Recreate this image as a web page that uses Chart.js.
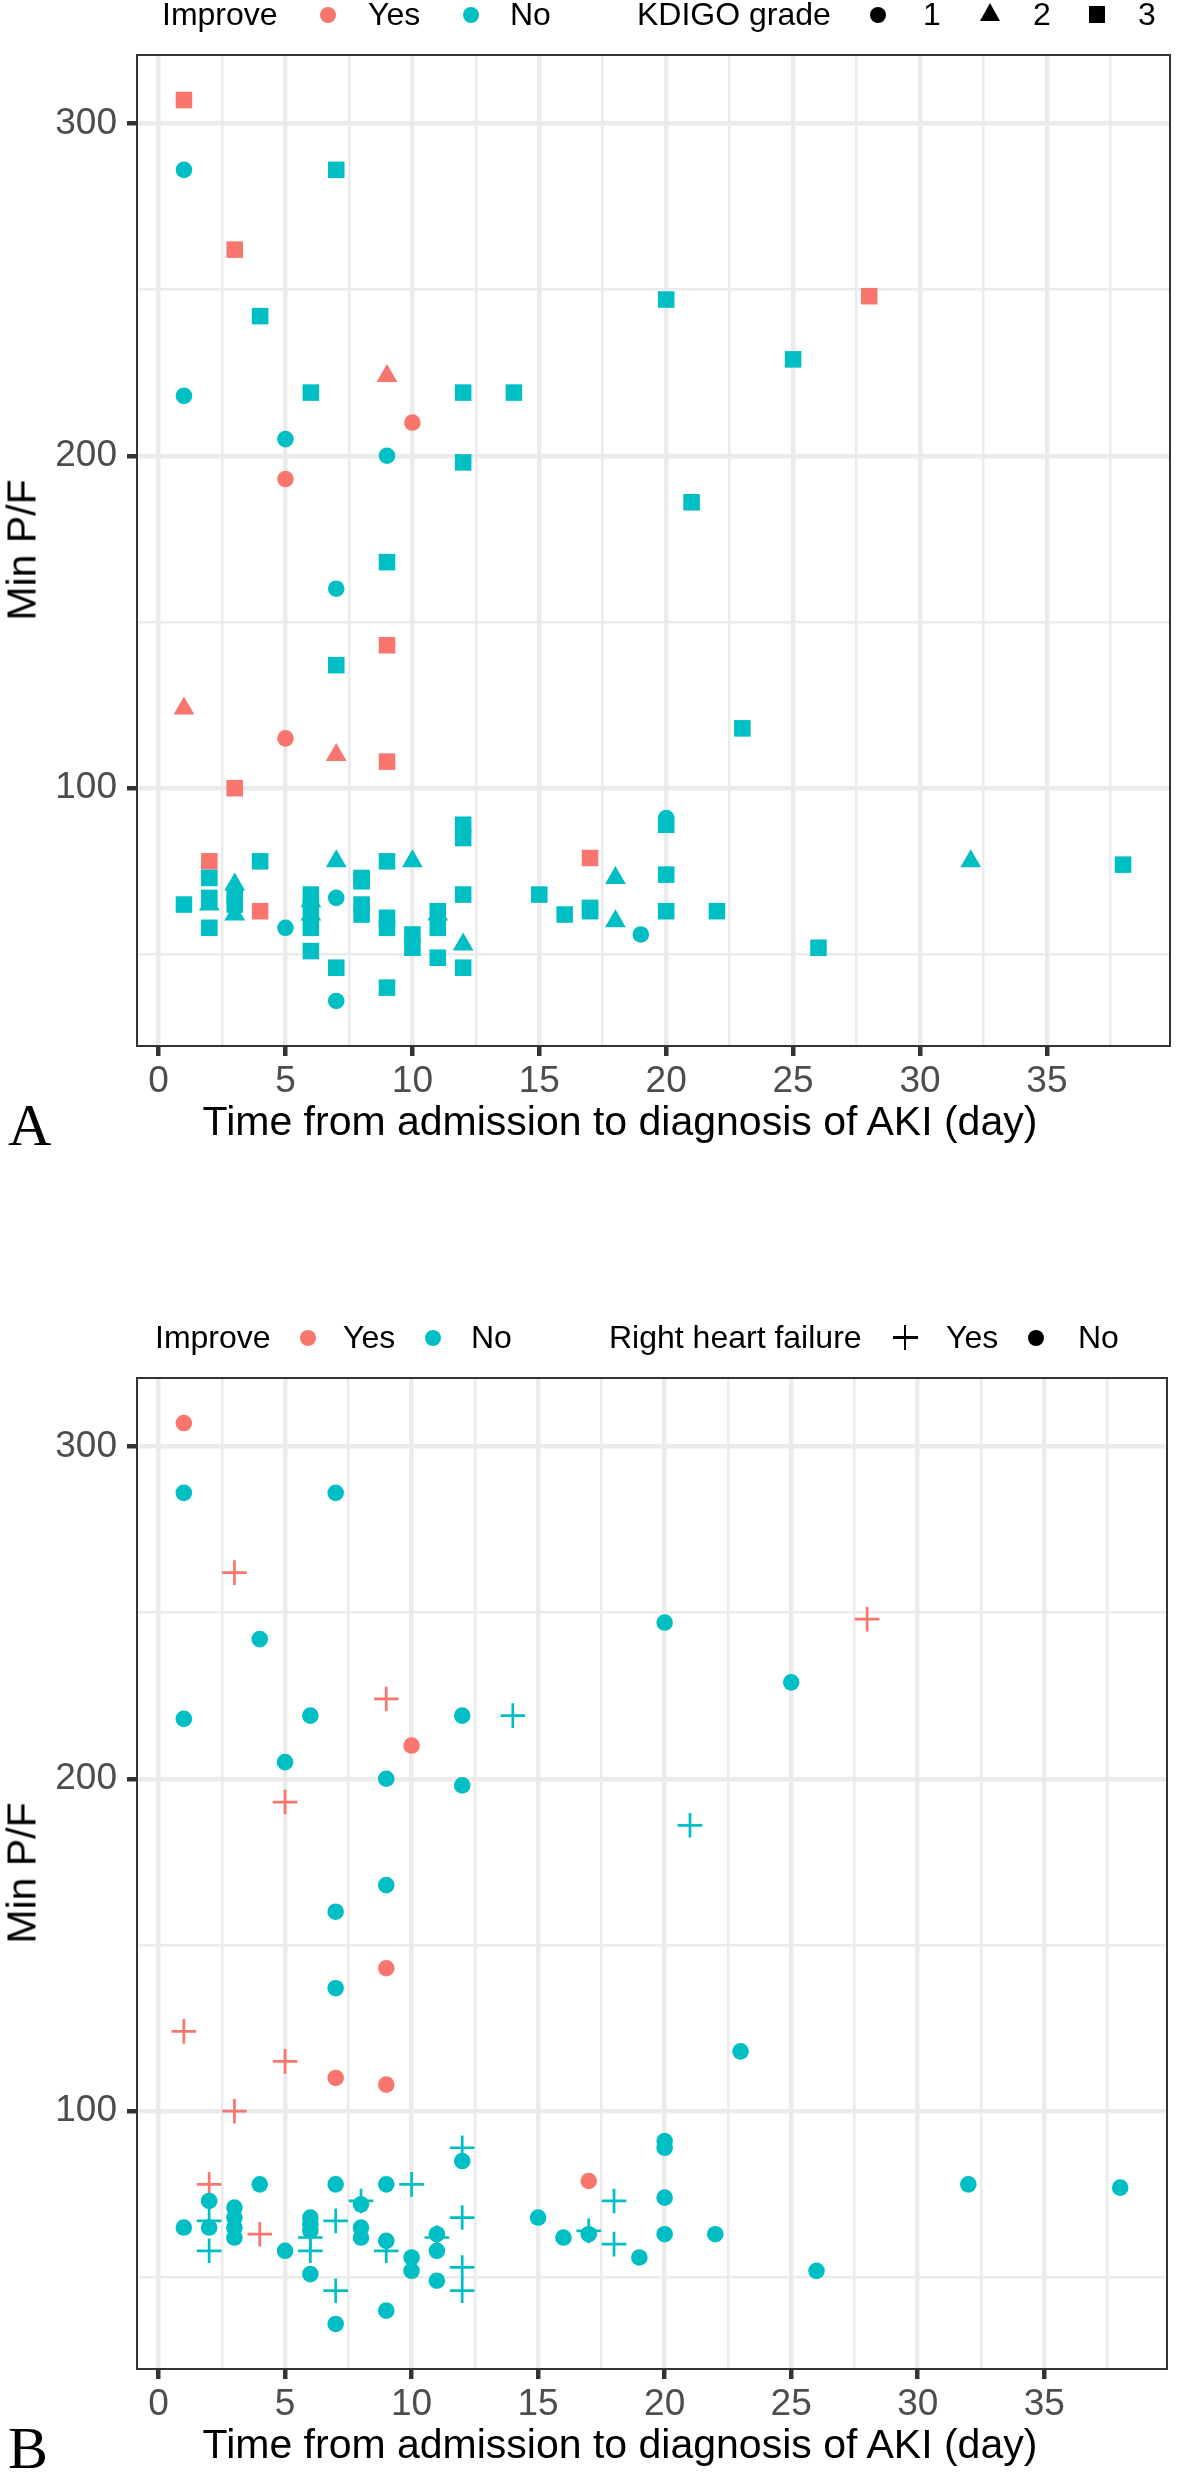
<!DOCTYPE html>
<html lang="en">
<head>
<meta charset="UTF-8" />
<title>Min P/F vs time from admission to AKI</title>
<script src="https://cdn.jsdelivr.net/npm/chart.js"></script>
<style>
  body {
    margin: 0;
    width: 1182px;
    height: 2480px;
    position: relative;
    overflow: hidden;
    background: #fff;
    font-family: 'Liberation Sans', Arial, sans-serif;
  }
  .panel { position: absolute; left: 0; width: 1182px; height: 1160px; }
  .panel canvas { position: absolute; left: 0; top: 0; }
  .txt { position: absolute; white-space: nowrap; line-height: 1; color: #000; }
  .leg { font-size: 32px; }
  .xtitle { font-size: 41px; transform: translateX(-50%); }
  .ytitle { font-size: 41px; transform: translate(-50%, -50%) rotate(-90deg); }
  .tag { font-family: 'Liberation Serif', 'Times New Roman', serif; font-size: 60px; }
  .key { position: absolute; }
  .dot { width: 16px; height: 16px; border-radius: 50%; }
  .sq { width: 16.5px; height: 16.5px; background: #000; }
  .tri { width: 0; height: 0; border-left: 10.5px solid transparent; border-right: 10.5px solid transparent; border-bottom: 18px solid #000; }
  .plus { width: 25px; height: 25px; }
  .plus::before, .plus::after { content: ''; position: absolute; background: #000; }
  .plus::before { left: 11.15px; top: 0; width: 2.7px; height: 25px; }
  .plus::after { left: 0; top: 11.15px; width: 25px; height: 2.7px; }
</style>
</head>
<body>

<div class="panel" style="top:0">
  <canvas id="chartA" width="1182" height="1160"></canvas>
  <div class="txt leg" style="left:162px;top:-2px">Improve</div>
  <div class="key dot" style="left:320px;top:6.5px;background:#F8766D"></div>
  <div class="txt leg" style="left:368px;top:-2px">Yes</div>
  <div class="key dot" style="left:463px;top:6.5px;background:#00BFC4"></div>
  <div class="txt leg" style="left:510px;top:-2px">No</div>
  <div class="txt leg" style="left:637px;top:-2px">KDIGO grade</div>
  <div class="key dot" style="left:870px;top:6.5px;background:#000"></div>
  <div class="txt leg" style="left:923px;top:-2px">1</div>
  <div class="key tri" style="left:979.5px;top:3px"></div>
  <div class="txt leg" style="left:1033px;top:-2px">2</div>
  <div class="key sq" style="left:1088.75px;top:6.25px"></div>
  <div class="txt leg" style="left:1138px;top:-2px">3</div>
  <div class="txt ytitle" style="left:22px;top:550px">Min P/F</div>
  <div class="txt xtitle" style="left:620px;top:1101px">Time from admission to diagnosis of AKI (day)</div>
  <div class="txt tag" style="left:8px;top:1095px">A</div>
</div>

<div class="panel" style="top:1323px">
  <canvas id="chartB" width="1182" height="1160"></canvas>
  <div class="txt leg" style="left:155px;top:-2px">Improve</div>
  <div class="key dot" style="left:300px;top:6.5px;background:#F8766D"></div>
  <div class="txt leg" style="left:343px;top:-2px">Yes</div>
  <div class="key dot" style="left:425px;top:6.5px;background:#00BFC4"></div>
  <div class="txt leg" style="left:471px;top:-2px">No</div>
  <div class="txt leg" style="left:609px;top:-2px">Right heart failure</div>
  <div class="key plus" style="left:892.5px;top:2px"></div>
  <div class="txt leg" style="left:946px;top:-2px">Yes</div>
  <div class="key dot" style="left:1028px;top:6.5px;background:#000"></div>
  <div class="txt leg" style="left:1078px;top:-2px">No</div>
  <div class="txt ytitle" style="left:22px;top:550px">Min P/F</div>
  <div class="txt xtitle" style="left:620px;top:1101px">Time from admission to diagnosis of AKI (day)</div>
  <div class="txt tag" style="left:8px;top:1095px">B</div>
</div>

<script>
  // one entry per patient
  const days    = [1, 1, 1, 1, 1, 2, 2, 2, 2, 2, 3, 3, 3, 3, 3, 3, 4, 4, 4, 5, 5, 5, 5,
                   6, 6, 6, 6, 6, 6, 6, 7, 7, 7, 7, 7, 7, 7, 7, 8, 8, 8, 8,
                   9, 9, 9, 9, 9, 9, 9, 9, 9, 10, 10, 10, 10, 11, 11, 11, 11,
                   12, 12, 12, 12, 12, 12, 12, 14, 15, 16, 17, 17, 17, 18, 18, 19,
                   20, 20, 20, 20, 20, 21, 22, 23, 25, 26, 28, 32, 38];
  const minPF   = [307, 286, 218, 124, 65, 78, 73, 67, 65, 58, 262, 100, 71, 68, 65, 62, 242, 78, 63, 205, 193, 115, 58,
                   219, 68, 66, 64, 62, 58, 51, 286, 160, 137, 110, 78, 67, 46, 36, 73, 72, 65, 62,
                   224, 200, 168, 143, 108, 78, 61, 58, 40, 210, 78, 56, 52, 63, 62, 58, 49,
                   219, 198, 89, 85, 68, 53, 46, 219, 68, 62, 79, 64, 63, 73, 60, 56,
                   247, 91, 89, 74, 63, 186, 63, 118, 229, 52, 248, 78, 77];
  const improve = ['Yes', 'No', 'No', 'Yes', 'No', 'Yes', 'No', 'No', 'No', 'No', 'Yes', 'Yes', 'No', 'No', 'No', 'No', 'No', 'No', 'Yes', 'No', 'Yes', 'Yes', 'No',
                   'No', 'No', 'No', 'No', 'No', 'No', 'No', 'No', 'No', 'No', 'Yes', 'No', 'No', 'No', 'No', 'No', 'No', 'No', 'No',
                   'Yes', 'No', 'No', 'Yes', 'Yes', 'No', 'No', 'No', 'No', 'Yes', 'No', 'No', 'No', 'No', 'No', 'No', 'No',
                   'No', 'No', 'No', 'No', 'No', 'No', 'No', 'No', 'No', 'No', 'Yes', 'No', 'No', 'No', 'No', 'No',
                   'No', 'No', 'No', 'No', 'No', 'No', 'No', 'No', 'No', 'No', 'Yes', 'No', 'No'];
  const kdigo   = [3, 1, 1, 2, 3, 3, 3, 3, 2, 3, 3, 3, 2, 3, 3, 2, 3, 3, 3, 1, 1, 1, 1,
                   3, 3, 2, 3, 2, 3, 3, 3, 1, 3, 2, 2, 1, 3, 1, 3, 3, 3, 3,
                   2, 1, 3, 3, 3, 3, 3, 3, 3, 1, 2, 3, 3, 3, 2, 3, 3,
                   3, 3, 3, 3, 3, 2, 3, 3, 3, 3, 3, 3, 3, 2, 2, 1,
                   3, 1, 3, 3, 3, 3, 3, 3, 3, 3, 3, 2, 3];
  const rhf     = ['No', 'No', 'No', 'Yes', 'No', 'Yes', 'No', 'Yes', 'No', 'Yes', 'Yes', 'Yes', 'No', 'No', 'No', 'No', 'No', 'No', 'Yes', 'No', 'Yes', 'Yes', 'No',
                   'No', 'No', 'No', 'No', 'Yes', 'Yes', 'No', 'No', 'No', 'No', 'No', 'No', 'Yes', 'Yes', 'No', 'Yes', 'No', 'No', 'No',
                   'Yes', 'No', 'No', 'No', 'No', 'No', 'No', 'Yes', 'No', 'No', 'Yes', 'No', 'No', 'No', 'Yes', 'No', 'No',
                   'No', 'No', 'Yes', 'No', 'Yes', 'Yes', 'Yes', 'Yes', 'No', 'No', 'No', 'Yes', 'No', 'Yes', 'Yes', 'No',
                   'No', 'No', 'No', 'No', 'No', 'Yes', 'No', 'No', 'No', 'No', 'Yes', 'No', 'No'];

  const xMin = -0.85, xMax = 39.85;
  const yMin = 22.45, yMax = 320.55;
  const xTicks = [0, 2.5, 5, 7.5, 10, 12.5, 15, 17.5, 20, 22.5, 25, 27.5, 30, 32.5, 35, 37.5];
  const xLabels = [0, 5, 10, 15, 20, 25, 30, 35];
  const yTicks = [50, 100, 150, 200, 250, 300];
  const yLabels = [100, 200, 300];

  const improveLevels = ['No', 'Yes'];
  const improveColors = { Yes: '#F8766D', No: '#00BFC4' };
  const gradeLevels = [1, 2, 3];
  const gradeShapes = { 1: ['circle', 8.3], 2: ['triangle', 12], 3: ['rect', 11.7] };
  const rhfLevels = ['No', 'Yes'];
  const rhfShapes = { Yes: ['cross', 12.3], No: ['circle', 8.3] };

  const FONT = "'Liberation Sans', Arial, sans-serif";

  function pointsWhere(test) {
    const pts = [];
    days.forEach((d, i) => { if (test(i)) pts.push({ x: d, y: minPF[i] }); });
    return pts;
  }

  const datasetsA = [];
  improveLevels.forEach(imp => {
    gradeLevels.forEach(g => {
      const [style, r] = gradeShapes[g];
      datasetsA.push({
        label: imp + ' / ' + g,
        data: pointsWhere(i => improve[i] === imp && kdigo[i] === g),
        pointStyle: style,
        pointRadius: r,
        backgroundColor: improveColors[imp],
        borderColor: improveColors[imp],
        borderWidth: 0
      });
    });
  });

  const datasetsB = [];
  improveLevels.forEach(imp => {
    rhfLevels.forEach(h => {
      const [style, r] = rhfShapes[h];
      datasetsB.push({
        label: imp + ' / ' + h,
        data: pointsWhere(i => improve[i] === imp && rhf[i] === h),
        pointStyle: style,
        pointRadius: r,
        backgroundColor: improveColors[imp],
        borderColor: improveColors[imp],
        borderWidth: h === 'Yes' ? 2.7 : 0
      });
    });
  });

  // ggplot style panel border on top of everything
  const panelBorder = {
    id: 'panelBorder',
    afterDraw(chart) {
      const { ctx, chartArea: a } = chart;
      ctx.save();
      ctx.strokeStyle = '#333333';
      ctx.lineWidth = 2;
      ctx.strokeRect(a.left, a.top, a.right - a.left, a.bottom - a.top);
      ctx.restore();
    }
  };

  function axis(min, max, ticks, labels, fitSide, fitSize, pad) {
    const isMajor = c => c.tick && labels.includes(c.tick.value);
    return {
      type: 'linear',
      min: min,
      max: max,
      afterBuildTicks: s => { s.ticks = ticks.map(v => ({ value: v })); },
      afterFit: s => { s[fitSide] = fitSize; },
      ticks: {
        autoSkip: false,
        maxRotation: 0,
        padding: pad,
        color: '#4D4D4D',
        font: { family: FONT, size: 37 },
        callback: v => labels.includes(v) ? String(v) : ''
      },
      grid: {
        color: '#EBEBEB',
        lineWidth: c => isMajor(c) ? 4.5 : 2.5,
        drawTicks: true,
        tickLength: 10,
        tickWidth: 4.5,
        tickColor: c => isMajor(c) ? '#333333' : 'rgba(0,0,0,0)'
      },
      border: { display: false }
    };
  }

  function makeChart(id, datasets) {
    return new Chart(document.getElementById(id), {
      type: 'scatter',
      data: { datasets: datasets },
      options: {
        responsive: false,
        animation: false,
        devicePixelRatio: 1,
        events: [],
        layout: { padding: { top: 55, right: 2, left: 0, bottom: 0 } },
        plugins: { legend: { display: false }, tooltip: { enabled: false } },
        scales: {
          x: axis(xMin, xMax, xTicks, xLabels, 'height', 114, 4),
          y: axis(yMin, yMax, yTicks, yLabels, 'width', 137, 10)
        }
      },
      plugins: [panelBorder]
    });
  }

  makeChart('chartA', datasetsA);
  makeChart('chartB', datasetsB);
</script>
</body>
</html>
